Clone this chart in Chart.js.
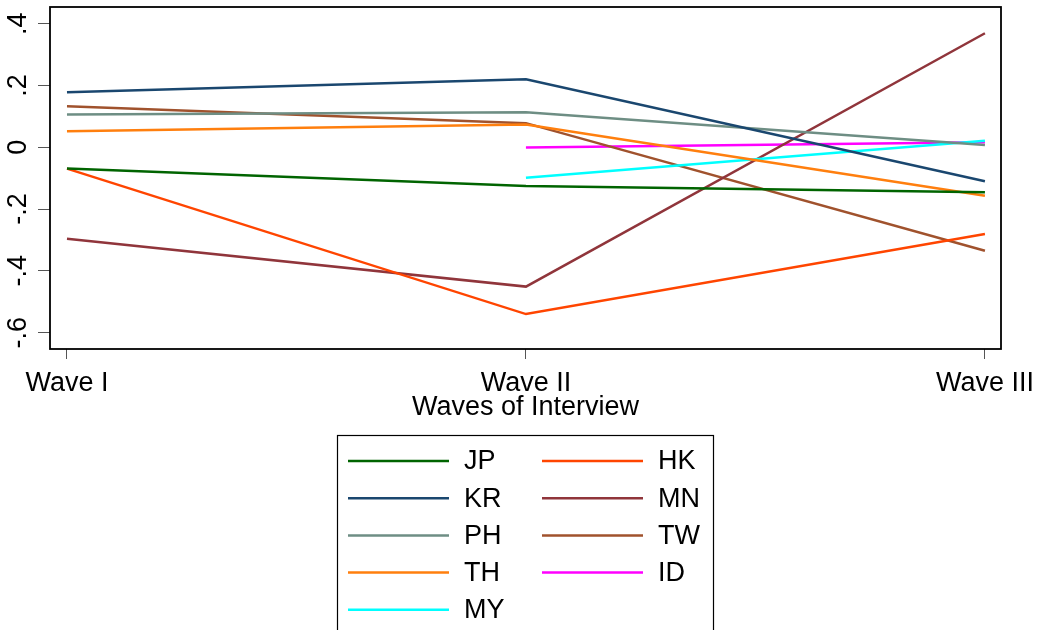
<!DOCTYPE html>
<html>
<head>
<meta charset="utf-8">
<script src="https://cdn.jsdelivr.net/npm/chart.js@4"></script>
<style>
  html, body { margin: 0; padding: 0; background: #ffffff; }
  #wrap { width: 1040px; height: 630px; position: relative; }
</style>
</head>
<body>
<div id="wrap"><canvas id="c" width="1040" height="630"></canvas></div>
<script>
// ---- data ----
const waveLabels = ["Wave I", "Wave II", "Wave III"];
const waveIndex = [0, 1, 2];
const yTickValues = [-0.6, -0.4, -0.2, 0, 0.2, 0.4];
const yTickLabels = ["-.6", "-.4", "-.2", "0", ".2", ".4"];
const xTitle = "Waves of Interview";

const countries = ["JP", "KR", "PH", "TH", "MY", "HK", "MN", "TW", "ID"];
const JP = [-0.069, -0.125, -0.146];
const KR = [0.178, 0.220, -0.110];
const PH = [0.106, 0.113, 0.007];
const TH = [0.052, 0.074, -0.157];
const MY = [null, -0.099, 0.021];
const HK = [-0.069, -0.540, -0.281];
const MN = [-0.296, -0.451, 0.369];
const TW = [0.133, 0.078, -0.335];
const ID = [null, -0.001, 0.016];
const seriesValues = [JP, KR, PH, TH, MY, HK, MN, TW, ID];
const colors = ["#006400", "#1a476f", "#6e8e84", "#ff7f0e", "#00ffff",
                "#ff4500", "#90353b", "#a0522d", "#ff00ff"];

const FONT = "'Liberation Sans', Arial, sans-serif";
const FS = 27;

const datasets = countries.map((name, i) => ({
  label: name,
  data: waveIndex.map((w, j) => ({ x: w, y: seriesValues[i][j] })),
  borderColor: colors[i],
  backgroundColor: colors[i],
  borderWidth: 2.5,
  pointRadius: 0,
  fill: false,
  spanGaps: false,
  tension: 0
}));

const stataPlugin = {
  id: "stata",
  beforeDraw(chart) {
    const ctx = chart.ctx;
    ctx.save();
    ctx.fillStyle = "#ffffff";
    ctx.fillRect(0, 0, chart.width, chart.height);
    ctx.restore();
  },
  afterDraw(chart) {
    const ctx = chart.ctx;
    const a = chart.chartArea;
    const ys = chart.scales.y;
    ctx.save();
    // plot frame
    ctx.strokeStyle = "#000000";
    ctx.lineWidth = 1.8;
    ctx.strokeRect(a.left, a.top, a.right - a.left, a.bottom - a.top);
    // rotated y tick labels
    ctx.fillStyle = "#000000";
    ctx.font = FS + "px " + FONT;
    ctx.textAlign = "center";
    ctx.textBaseline = "middle";
    yTickValues.forEach((v, i) => {
      const py = ys.getPixelForValue(v);
      ctx.save();
      ctx.translate(19, py);
      ctx.rotate(-Math.PI / 2);
      ctx.fillText(yTickLabels[i], 0, 0);
      ctx.restore();
    });
    // legend box
    ctx.lineWidth = 1.2;
    ctx.strokeStyle = "#000000";
    ctx.strokeRect(337.5, 435.5, 376, 210);
    const rows = 5;
    const rowY0 = 461, rowDy = 37.2;
    const colLine = [348, 542], colText = [464, 658], lineLen = 101;
    ctx.font = FS + "px " + FONT;
    ctx.textAlign = "left";
    ctx.textBaseline = "middle";
    chart.data.datasets.forEach((ds, i) => {
      const col = Math.floor(i / rows);
      const row = i % rows;
      const y = rowY0 + row * rowDy;
      ctx.strokeStyle = ds.borderColor;
      ctx.lineWidth = 2.5;
      ctx.beginPath();
      ctx.moveTo(colLine[col], y);
      ctx.lineTo(colLine[col] + lineLen, y);
      ctx.stroke();
      ctx.fillStyle = "#000000";
      ctx.fillText(ds.label, colText[col], y + 1);
    });
    ctx.restore();
  }
};

new Chart(document.getElementById("c"), {
  type: "line",
  data: { datasets },
  plugins: [stataPlugin],
  options: {
    responsive: false,
    animation: false,
    devicePixelRatio: 1,
    layout: { padding: { left: 0, right: 39, top: 7, bottom: 206 } },
    plugins: { legend: { display: false }, tooltip: { enabled: false }, title: { display: false } },
    scales: {
      x: {
        type: "linear",
        min: -0.037,
        max: 2.035,
        afterBuildTicks(scale) { scale.ticks = waveIndex.map(v => ({ value: v })); },
        afterFit(scale) {
          scale.height = 75;
          scale.paddingLeft = 0;
          scale.paddingRight = 0;
        },
        border: { display: false },
        grid: { drawOnChartArea: false, drawTicks: true, tickLength: 10, color: "#555555", lineWidth: 1 },
        ticks: {
          color: "#000000",
          font: { family: FONT, size: FS },
          padding: 8,
          maxRotation: 0,
          autoSkip: false,
          callback: (v) => waveLabels[waveIndex.indexOf(v)]
        },
        title: {
          display: true,
          text: xTitle,
          color: "#000000",
          font: { family: FONT, size: FS },
          padding: { top: 0, bottom: 0 }
        }
      },
      y: {
        type: "linear",
        min: -0.653,
        max: 0.454,
        afterBuildTicks(scale) { scale.ticks = yTickValues.map(v => ({ value: v })); },
        afterFit(scale) {
          scale.width = 50;
          scale.paddingTop = 0;
          scale.paddingBottom = 0;
        },
        border: { display: false },
        grid: { drawOnChartArea: false, drawTicks: true, tickLength: 12, color: "#555555", lineWidth: 1 },
        ticks: { display: false }
      }
    }
  }
});
</script>
</body>
</html>
